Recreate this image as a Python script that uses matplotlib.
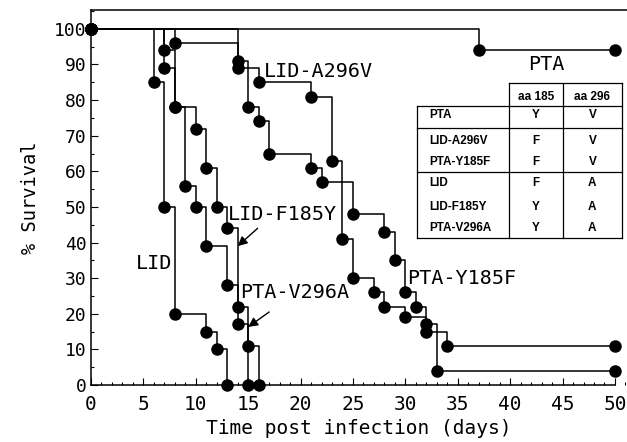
import matplotlib
matplotlib.use('Agg')
import matplotlib.pyplot as plt
from matplotlib.ticker import MultipleLocator

# survival curves (day, % survival)
pta_t = [0, 37, 50]
pta_s = [100, 94, 94]
lid_t = [0, 6, 7, 8, 11, 12, 13]
lid_s = [100, 85, 50, 20, 15, 10, 0]
f185y_t = [0, 7, 8, 10, 11, 12, 13, 14, 15, 16]
f185y_s = [100, 94, 78, 72, 61, 50, 44, 22, 11, 0]
v296a_t = [0, 7, 8, 9, 10, 11, 13, 14, 15]
v296a_s = [100, 89, 78, 56, 50, 39, 28, 17, 0]
y185f_t = [0, 14, 15, 16, 17, 21, 22, 25, 28, 29, 30, 31, 32, 33, 50]
y185f_s = [100, 91, 78, 74, 65, 61, 57, 48, 43, 35, 26, 22, 17, 4, 4]
a296v_t = [0, 8, 14, 16, 21, 23, 24, 25, 27, 28, 30, 32, 34, 50]
a296v_s = [100, 96, 89, 85, 81, 63, 41, 30, 26, 22, 19, 15, 11, 11]

curves = [(pta_t, pta_s), (lid_t, lid_s), (f185y_t, f185y_s),
          (v296a_t, v296a_s), (y185f_t, y185f_s), (a296v_t, a296v_s)]

# table contents
tbl_head = ['aa 185', 'aa 296']
tbl_names = ['PTA', 'LID-A296V', 'PTA-Y185F', 'LID', 'LID-F185Y', 'PTA-V296A']
tbl_185 = ['Y', 'F', 'F', 'F', 'Y', 'Y']
tbl_296 = ['V', 'V', 'V', 'A', 'A', 'A']

mono = 'DejaVu Sans Mono'

fig = plt.figure(figsize=(6.27, 4.42), dpi=100)
ax = fig.add_axes([91/627, 1-385/442, 1-91/627, 375/442])

for t, s in curves:
    ax.step(t, s, where='post', color='black', lw=1.1, clip_on=False)
    ax.plot(t, s, 'o', color='black', ms=8, clip_on=False, zorder=5)

ax.set_xlim(0, 51.15)
ax.set_ylim(0, 105.3)
ax.spines['right'].set_visible(False)
ax.spines['bottom'].set_bounds(0, 50)
for sp in ax.spines.values():
    sp.set_linewidth(1.1)

ax.xaxis.set_major_locator(MultipleLocator(5))
ax.xaxis.set_minor_locator(MultipleLocator(1))
ax.yaxis.set_major_locator(MultipleLocator(10))
ax.yaxis.set_minor_locator(MultipleLocator(5))
ax.set_xticks(range(0, 51, 5))
ax.set_yticks(range(0, 101, 10))
ax.tick_params(which='both', direction='in', top=False, right=False, width=0.8)
ax.tick_params(which='major', length=5)
ax.tick_params(which='minor', length=2.5)
ax.tick_params(axis='x', pad=7)
ax.tick_params(axis='y', pad=3)
for lab in ax.get_xticklabels():
    lab.set_family(mono)
    lab.set_fontsize(14)
for lab in ax.get_yticklabels():
    lab.set_family(mono)
    lab.set_fontsize(13)

ax.set_xlabel('Time post infection (days)', family=mono, fontsize=14, labelpad=4)
ax.set_ylabel('% Survival', family=mono, fontsize=13.5, labelpad=10)

# curve labels
lab_kw = dict(family=mono, fontsize=14.5, va='center')
ax.text(16.5, 88, 'LID-A296V', **lab_kw)
ax.text(41.7, 90, 'PTA', **lab_kw)
ax.text(13.1, 48, 'LID-F185Y', **lab_kw)
ax.text(4.3, 34, 'LID', **lab_kw)
ax.text(14.2, 26, 'PTA-V296A', **lab_kw)
ax.text(30.2, 30, 'PTA-Y185F', **lab_kw)

arr = dict(arrowstyle='-|>', color='black', lw=1, mutation_scale=14, shrinkA=0, shrinkB=0)
ax.annotate('', xy=(14.0, 39), xytext=(15.9, 44), arrowprops=arr)
ax.annotate('', xy=(15.0, 16.3), xytext=(17.0, 20.5), arrowprops=arr)

# table
xl, xc1, xc2, xr = 31.1, 39.9, 45.0, 50.7
yt, yh, y1, y2, yb = 84.8, 78.4, 72.2, 59.8, 41.3
lk = dict(color='black', lw=0.9)
ax.plot([xc1, xr], [yt, yt], **lk)
for xx in (xc1, xc2, xr):
    ax.plot([xx, xx], [yt, yb], **lk)
ax.plot([xl, xl], [yh, yb], **lk)
for yy in (yh, y1, y2, yb):
    ax.plot([xl, xr], [yy, yy], **lk)

tk = dict(family='Liberation Sans', fontweight='bold', fontsize=8.5, va='center')
ax.text((xc1 + xc2) / 2, 80.9, tbl_head[0], ha='center', **tk)
ax.text((xc2 + xr) / 2, 80.9, tbl_head[1], ha='center', **tk)
row_y = [75.8, 68.5, 62.6, 56.7, 50.0, 44.1]
for yy, n, a, b in zip(row_y, tbl_names, tbl_185, tbl_296):
    ax.text(32.3, yy, n, ha='left', **tk)
    ax.text((xc1 + xc2) / 2, yy, a, ha='center', **tk)
    ax.text((xc2 + xr) / 2, yy, b, ha='center', **tk)

fig.savefig('out.png', dpi=100)
